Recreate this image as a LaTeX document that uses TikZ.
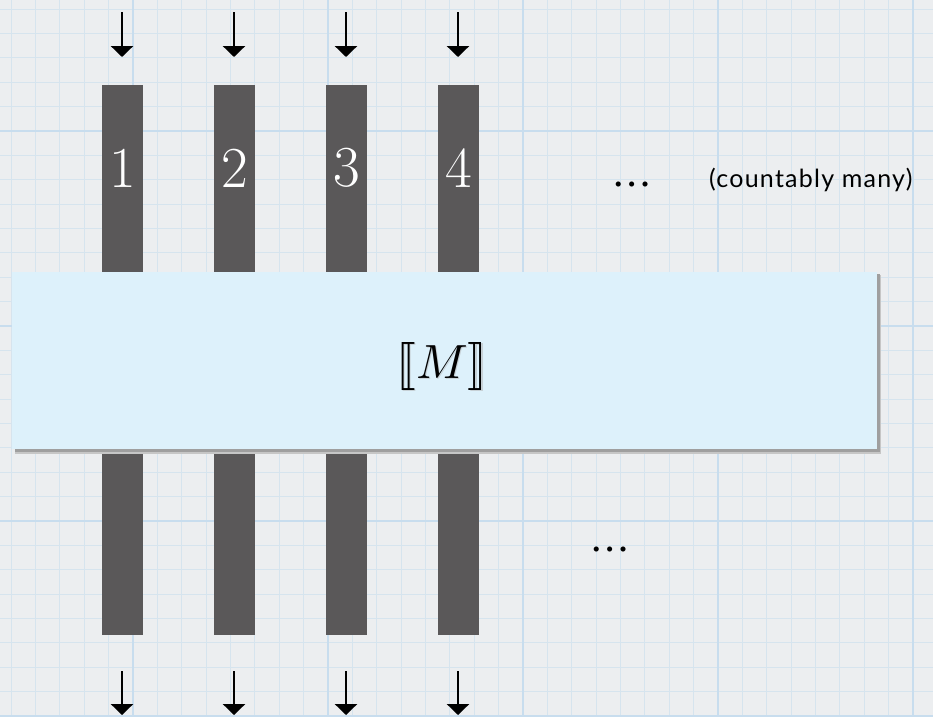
\documentclass[tikz,border=0pt]{standalone}
\usepackage{fontspec}
\usepackage{unicode-math}
\setmathfont{Latin Modern Math}
\newfontfamily\notefont{Lato}[LetterSpace=5]
\usetikzlibrary{arrows.meta}
\definecolor{paper}{HTML}{ECEEF0}
\definecolor{gridminor}{HTML}{D6E4EE}
\definecolor{gridmajor}{HTML}{C8DDEE}
\definecolor{barcol}{HTML}{5A5859}
\definecolor{boxcol}{HTML}{DDF1FB}
\tikzset{
  barbox/.style={fill=barcol, draw=none, inner sep=0pt, minimum width=41pt, minimum height=550pt},
  numlabel/.style={text=white, inner sep=0pt, font=\fontsize{58}{60}\selectfont},
  flowarrow/.style={line width=2.6pt, -{Triangle[width=22pt,length=11pt]}},
  dotslabel/.style={inner sep=0pt, font=\fontsize{48}{48}\selectfont},
  notelabel/.style={inner sep=0pt, font=\notefont\fontsize{25}{28}\selectfont, anchor=west}
}
\begin{document}
\begin{tikzpicture}[x=1pt,y=-1pt]
\useasboundingbox (0,0) rectangle (933,716);
% paper and grid
\fill[paper] (0,0) rectangle (933,716);
\foreach \i in {0,...,38} {
  \draw[gridminor, line width=0.9pt] (11.125+\i*24.375,0) -- (11.125+\i*24.375,716);
}
\foreach \i in {0,...,30} {
  \draw[gridminor, line width=0.9pt] (0,9.1+\i*24.375) -- (933,9.1+\i*24.375);
}
\foreach \i in {0,...,4} {
  \draw[gridmajor, line width=1.6pt] (133+\i*195,0) -- (133+\i*195,716);
  \draw[gridmajor, line width=1.6pt] (0,131+\i*195) -- (933,131+\i*195);
}
% bars
\foreach \k/\x in {1/122.5,2/234.5,3/346.5,4/458.5} {
  \node[barbox] (bar\k) at (\x,360) {};
  \node[numlabel] (num\k) at (\x,168) {\k};
  \coordinate (tin\k) at (\x-0.5,12);
  \coordinate (tinend\k) at (\x-0.5,57);
  \coordinate (tout\k) at (\x-0.5,671);
  \coordinate (toutend\k) at (\x-0.5,715);
  \draw[flowarrow] (tin\k) -- (tinend\k);
  \draw[flowarrow] (tout\k) -- (toutend\k);
}
% box with shadow
\fill[gray!45] (15,275) rectangle (881,454);
\fill[gray!75] (15,274) rectangle (879.5,452);
\node[fill=boxcol, draw=none, inner sep=0pt, minimum width=865pt, minimum height=177pt] (M) at (444.5,360.5) {};
\node[text=gray!60, inner sep=0pt, font=\fontsize{48}{50}\selectfont, opacity=0.5] at (443.5,367) {$\lBrack M\rBrack$};
\node[inner sep=0pt, font=\fontsize{48}{50}\selectfont] (Mlabel) at (442,366) {$\lBrack M\rBrack$};
% dots and note
\node[dotslabel] (dotstop) at (632,189) {$\cdots$};
\node[dotslabel] (dotsbot) at (610,554) {$\cdots$};
\node[notelabel] (note) at (709,180) {(countably many)};
\end{tikzpicture}
\end{document}
